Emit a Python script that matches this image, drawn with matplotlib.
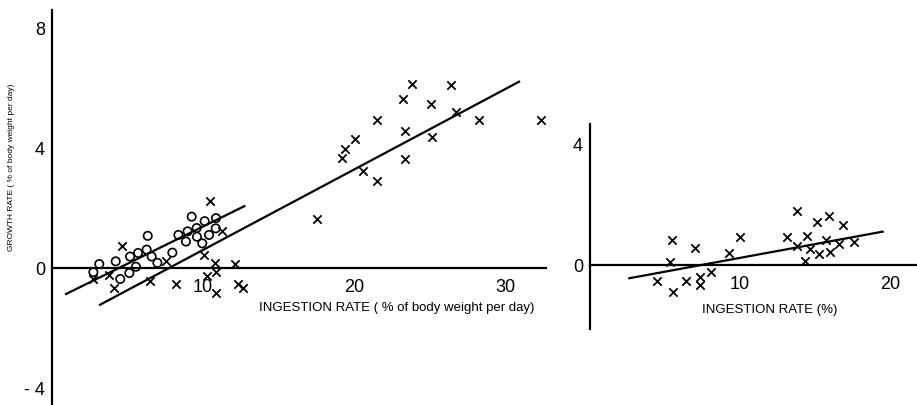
import matplotlib
matplotlib.use("Agg")
import matplotlib.pyplot as plt
import numpy as np

plt.rcParams['font.family'] = ['Liberation Sans', 'DejaVu Sans']

# Left panel: open circles
circ_x = [3.13, 2.74, 4.22, 4.52, 5.17, 5.12, 5.56, 5.70, 6.27, 6.34, 6.60, 6.98,
          7.97, 8.37, 8.87, 8.98, 9.25, 9.58, 9.60, 9.95, 10.11, 10.40, 10.86, 10.84]
circ_y = [0.13, -0.14, 0.22, -0.37, 0.38, -0.17, 0.04, 0.50, 0.61, 1.07, 0.38, 0.17,
          0.51, 1.10, 0.88, 1.22, 1.71, 1.33, 1.04, 0.82, 1.56, 1.10, 1.66, 1.32]

# Left panel: crosses
cross_x = [2.74, 3.80, 4.66, 4.13, 6.49, 7.53, 8.19, 10.46, 11.24, 10.05, 10.82, 12.14,
           10.84, 10.24, 10.84, 12.30, 12.67,
           23.86, 26.42, 23.26, 25.10, 26.73, 21.50, 28.30, 32.36, 23.40, 25.19, 20.05,
           19.43, 19.19, 23.40, 20.57, 21.54, 17.53]
cross_y = [-0.37, -0.22, 0.72, -0.67, -0.44, 0.23, -0.52, 2.24, 1.22, 0.44, 0.16, 0.13,
           -0.14, -0.26, -0.82, -0.53, -0.68,
           6.12, 6.10, 5.62, 5.48, 5.21, 4.94, 4.92, 4.94, 4.56, 4.38, 4.29,
           3.97, 3.67, 3.64, 3.24, 2.91, 1.63]

# Regression lines (left panel): [x_start, x_end], slope, intercept
circ_line_x = [0.93, 12.74]
circ_slope, circ_icpt = 0.248, -1.10
cross_line_x = [3.18, 30.93]
cross_slope, cross_icpt = 0.268, -2.08

# Right panel: crosses
r_x = [4.49, 5.49, 5.31, 5.56, 6.40, 7.02, 7.36, 7.36, 8.07, 9.29, 10.00, 13.16,
       13.82, 13.82, 14.49, 14.67, 14.36, 15.16, 15.91, 15.71, 15.24, 16.00, 16.58,
       16.89, 17.60]
r_y = [-0.54, 0.81, 0.09, -0.91, -0.53, 0.55, -0.39, -0.65, -0.24, 0.41, 0.92, 0.93,
       1.77, 0.62, 0.97, 0.53, 0.14, 1.41, 1.61, 0.83, 0.36, 0.42, 0.69, 1.33, 0.75]
r_line_x = [2.62, 19.51]
r_slope, r_icpt = 0.0912, -0.68

left_xticks = [10, 20, 30]
left_yticks = [8, 4, 0, -4]
right_xticks = [10, 20]
right_yticks = [4, 0]

W, H = 917, 406
fig = plt.figure(figsize=(W / 100, H / 100), dpi=100)

def style(ax):
    ax.spines['top'].set_visible(False)
    ax.spines['right'].set_visible(False)
    ax.spines['bottom'].set_position(('data', 0))
    ax.spines['left'].set_linewidth(1.6)
    ax.spines['bottom'].set_linewidth(1.6)
    ax.tick_params(axis='both', length=0, labelsize=13)
    ax.tick_params(axis='x', pad=7)
    ax.tick_params(axis='y', pad=5)
    ax.patch.set_alpha(0)

# Left axes
axL = fig.add_axes([52 / W, 0, (546 - 52) / W, (406 - 11) / H])
axL.set_xlim(0, (546 - 52) / 15.1)
axL.set_ylim(-4.57, 8.6)
style(axL)
axL.set_xticks(left_xticks)
axL.set_xticklabels([str(t) for t in left_xticks])
axL.set_yticks(left_yticks)
axL.set_yticklabels(['8', '4', '0', '- 4'])

axL.scatter(circ_x, circ_y, s=36, facecolors='none', edgecolors='black', linewidths=1.2, zorder=3)
axL.scatter(cross_x, cross_y, s=36, marker='x', color='black', linewidths=1.3, zorder=3)
cx = np.array(circ_line_x)
axL.plot(cx, circ_slope * cx + circ_icpt, color='black', lw=1.6)
kx = np.array(cross_line_x)
axL.plot(kx, cross_slope * kx + cross_icpt, color='black', lw=1.6)

axL.text(22.8, -1.3, 'INGESTION RATE ( % of body weight per day)', ha='center', va='center',
         fontsize=9.5)

fig.text(12 / W, 1 - 167 / H, 'GROWTH RATE ( % of body weight per day)', rotation=90,
         ha='center', va='center', fontsize=6.0)

# Right axes
axR = fig.add_axes([590 / W, 1 - 330 / H, (917 - 590) / W, (330 - 125) / H])
axR.set_xlim(0, (917 - 590) / 15.0)
axR.set_ylim(-2.12, 4.66)
style(axR)
axR.set_xticks(right_xticks)
axR.set_xticklabels([str(t) for t in right_xticks])
axR.set_yticks(right_yticks)
axR.set_yticklabels([str(t) for t in right_yticks])

axR.scatter(r_x, r_y, s=36, marker='x', color='black', linewidths=1.3, zorder=3)
rx = np.array(r_line_x)
axR.plot(rx, r_slope * rx + r_icpt, color='black', lw=1.6)
axR.text(12.0, -1.45, 'INGESTION RATE (%)', ha='center', va='center', fontsize=9.5)

fig.savefig('out.png', dpi=100)
